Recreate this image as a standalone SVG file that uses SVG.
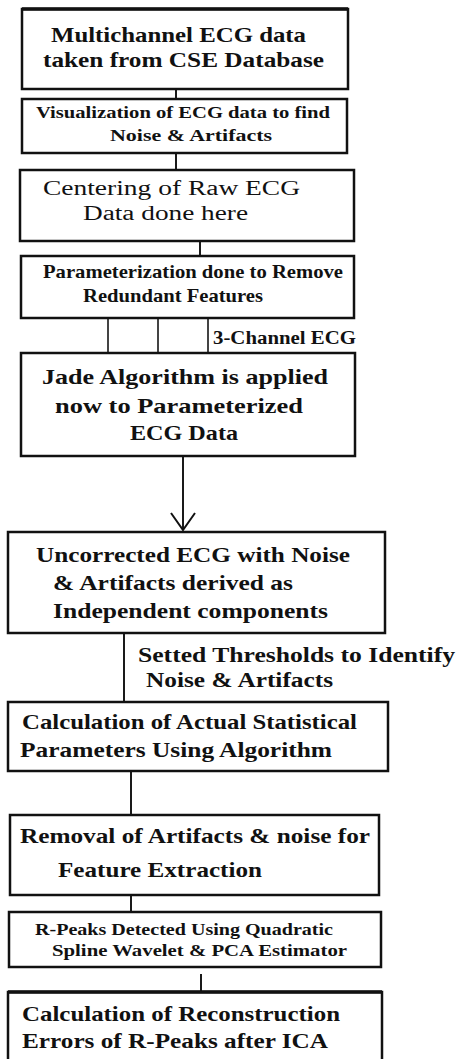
<svg xmlns="http://www.w3.org/2000/svg" width="458" height="1059" viewBox="0 0 458 1059">
  <style>
    .box { fill: #ffffff; stroke: #111111; stroke-width: 2.5; }
    .link { stroke: #1a1a1a; stroke-width: 2; fill: none; }
    .split { stroke: #444444; stroke-width: 2; fill: none; }
    text { font-family: 'Liberation Serif', serif; font-weight: bold; fill: #111111; }
    .light { font-weight: normal; }
  </style>
  <defs>
    <marker id="vhead" markerUnits="userSpaceOnUse" markerWidth="30" markerHeight="30" refX="0" refY="0" viewBox="-20 -15 22 30" orient="auto" overflow="visible">
      <path d="M -17 -12 L 0 0 L -17 12" fill="none" stroke="#111111" stroke-width="2"/>
    </marker>
  </defs>
  <rect width="458" height="1059" fill="#ffffff"/>

  <g id="connectors">
    <line class="link" x1="176" y1="89" x2="176" y2="99"/>
    <line class="link" x1="176" y1="153" x2="176" y2="170"/>
    <line class="link" x1="200" y1="241" x2="200" y2="256"/>
    <line class="split" x1="108" y1="318" x2="108" y2="353"/>
    <line class="split" x1="158" y1="318" x2="158" y2="353"/>
    <line class="split" x1="208" y1="318" x2="208" y2="353"/>
    <text x="213" y="344" font-size="18" textLength="143" lengthAdjust="spacingAndGlyphs">3-Channel ECG</text>
    <line class="link" x1="183" y1="456" x2="183" y2="530" stroke-width="2.5" marker-end="url(#vhead)"/>
    <line class="link" x1="124" y1="633" x2="124" y2="702"/>
    <text x="138" y="662" font-size="20" textLength="317" lengthAdjust="spacingAndGlyphs">Setted Thresholds to Identify</text>
    <text x="146" y="687" font-size="20" textLength="187" lengthAdjust="spacingAndGlyphs">Noise &amp; Artifacts</text>
    <line class="link" x1="131" y1="771" x2="131" y2="815"/>
    <line class="link" x1="131" y1="895" x2="131" y2="912"/>
    <line class="link" x1="201" y1="974" x2="201" y2="992"/>
  </g>

  <g id="source-data">
    <rect class="box" x="22" y="9" width="326" height="80"/>
    <line x1="22" y1="9" x2="348" y2="9" stroke="#111111" stroke-width="3.5"/>
    <text x="51" y="42" font-size="22" textLength="255" lengthAdjust="spacingAndGlyphs">Multichannel ECG data</text>
    <text x="43" y="67" font-size="22" textLength="281" lengthAdjust="spacingAndGlyphs">taken from CSE Database</text>
  </g>

  <g id="visualization">
    <rect class="box" x="22" y="99" width="325" height="54"/>
    <text x="36" y="118" font-size="16" textLength="294" lengthAdjust="spacingAndGlyphs">Visualization of ECG data to find</text>
    <text x="110" y="141" font-size="16" textLength="162" lengthAdjust="spacingAndGlyphs">Noise &amp; Artifacts</text>
  </g>

  <g id="centering">
    <rect class="box" x="20" y="170" width="334" height="71"/>
    <text class="light" x="43" y="195" font-size="20" textLength="257" lengthAdjust="spacingAndGlyphs">Centering of  Raw ECG</text>
    <text class="light" x="83" y="220" font-size="20" textLength="165" lengthAdjust="spacingAndGlyphs">Data done here</text>
  </g>

  <g id="parameterization">
    <rect class="box" x="21" y="256" width="333" height="62"/>
    <text x="43" y="278" font-size="19" textLength="300" lengthAdjust="spacingAndGlyphs">Parameterization done to Remove</text>
    <text x="83" y="302" font-size="19" textLength="180" lengthAdjust="spacingAndGlyphs">Redundant Features</text>
  </g>

  <g id="jade">
    <rect class="box" x="21" y="353" width="334" height="103"/>
    <text x="42" y="384" font-size="22" textLength="286" lengthAdjust="spacingAndGlyphs">Jade  Algorithm is applied</text>
    <text x="55" y="413" font-size="22" textLength="248" lengthAdjust="spacingAndGlyphs">now  to  Parameterized</text>
    <text x="130" y="440" font-size="22" textLength="108" lengthAdjust="spacingAndGlyphs">ECG Data</text>
  </g>

  <g id="uncorrected">
    <rect class="box" x="8" y="532" width="377" height="101"/>
    <text x="36" y="562" font-size="21" textLength="314" lengthAdjust="spacingAndGlyphs">Uncorrected ECG with Noise</text>
    <text x="53" y="590" font-size="21" textLength="240" lengthAdjust="spacingAndGlyphs">&amp; Artifacts derived as</text>
    <text x="53" y="618" font-size="21" textLength="275" lengthAdjust="spacingAndGlyphs">Independent components</text>
  </g>

  <g id="statistics">
    <rect class="box" x="8" y="702" width="380" height="69"/>
    <text x="22" y="729" font-size="21" textLength="335" lengthAdjust="spacingAndGlyphs">Calculation of Actual Statistical</text>
    <text x="20" y="757" font-size="21" textLength="312" lengthAdjust="spacingAndGlyphs">Parameters Using Algorithm</text>
  </g>

  <g id="removal">
    <rect class="box" x="10" y="815" width="369" height="80"/>
    <text x="20" y="843" font-size="21" textLength="350" lengthAdjust="spacingAndGlyphs">Removal of Artifacts &amp; noise for</text>
    <text x="58" y="877" font-size="21" textLength="204" lengthAdjust="spacingAndGlyphs">Feature Extraction</text>
  </g>

  <g id="r-peaks">
    <rect class="box" x="9" y="912" width="372" height="55"/>
    <text x="35" y="935" font-size="17" textLength="298" lengthAdjust="spacingAndGlyphs">R-Peaks Detected Using Quadratic</text>
    <text x="52" y="956" font-size="17" textLength="295" lengthAdjust="spacingAndGlyphs">Spline Wavelet  &amp;  PCA Estimator</text>
  </g>

  <g id="reconstruction">
    <rect class="box" x="8" y="992" width="374" height="80"/>
    <line x1="8" y1="992" x2="382" y2="992" stroke="#111111" stroke-width="3.5"/>
    <text x="22" y="1021" font-size="22" textLength="318" lengthAdjust="spacingAndGlyphs">Calculation of Reconstruction</text>
    <text x="22" y="1048" font-size="22" textLength="306" lengthAdjust="spacingAndGlyphs">Errors of R-Peaks after ICA</text>
  </g>
</svg>
